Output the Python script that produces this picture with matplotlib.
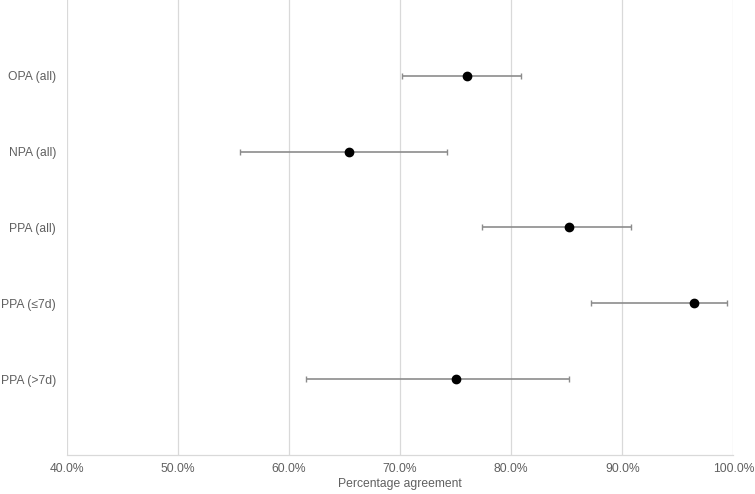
import matplotlib.pyplot as plt
import numpy as np
from matplotlib.ticker import PercentFormatter

plt.rcParams['font.family'] = ['Liberation Sans', 'DejaVu Sans']

# data (percent)
labels = ['OPA (all)', 'NPA (all)', 'PPA (all)', 'PPA (\u22647d)', 'PPA (>7d)']
estimate = [76.0, 65.4, 85.2, 96.5, 75.0]
ci_low = [70.2, 55.6, 77.4, 87.2, 61.5]
ci_high = [80.9, 74.2, 90.8, 99.4, 85.2]

text_color = '#606060'
grid_color = '#d9d9d9'

fig = plt.figure(figsize=(7.55, 4.94), dpi=100)
ax = fig.add_axes([0.0883, 0.079, 0.883, 0.921])

y = np.arange(len(labels), 0, -1)
est = np.array(estimate)
err = [est - np.array(ci_low), np.array(ci_high) - est]

ax.errorbar(est, y, xerr=err, fmt='none', ecolor='#8c8c8c', elinewidth=1.2,
            capsize=2.5, capthick=1.0, zorder=3)
ax.plot(est, y, 'o', color='black', markersize=6, zorder=4)

ax.set_xlim(40, 100)
ax.set_ylim(0, 6)
ax.set_xticks(np.arange(40, 101, 10))
ax.xaxis.set_major_formatter(PercentFormatter(decimals=1))
ax.set_yticks(y)
ax.set_yticklabels(labels)

ax.grid(True, axis='x', color=grid_color, linewidth=0.9)
ax.set_axisbelow(True)
for s in ['top', 'right', 'left']:
    ax.spines[s].set_visible(False)
ax.spines['bottom'].set_color(grid_color)
ax.spines['bottom'].set_linewidth(0.9)

ax.tick_params(axis='both', length=0, labelsize=8.7, colors=text_color)
ax.tick_params(axis='x', pad=6)
ax.tick_params(axis='y', pad=7.7)
ax.set_xlabel('Percentage agreement', fontsize=8.7, color=text_color, labelpad=2)

fig.savefig('out.png', dpi=100)
